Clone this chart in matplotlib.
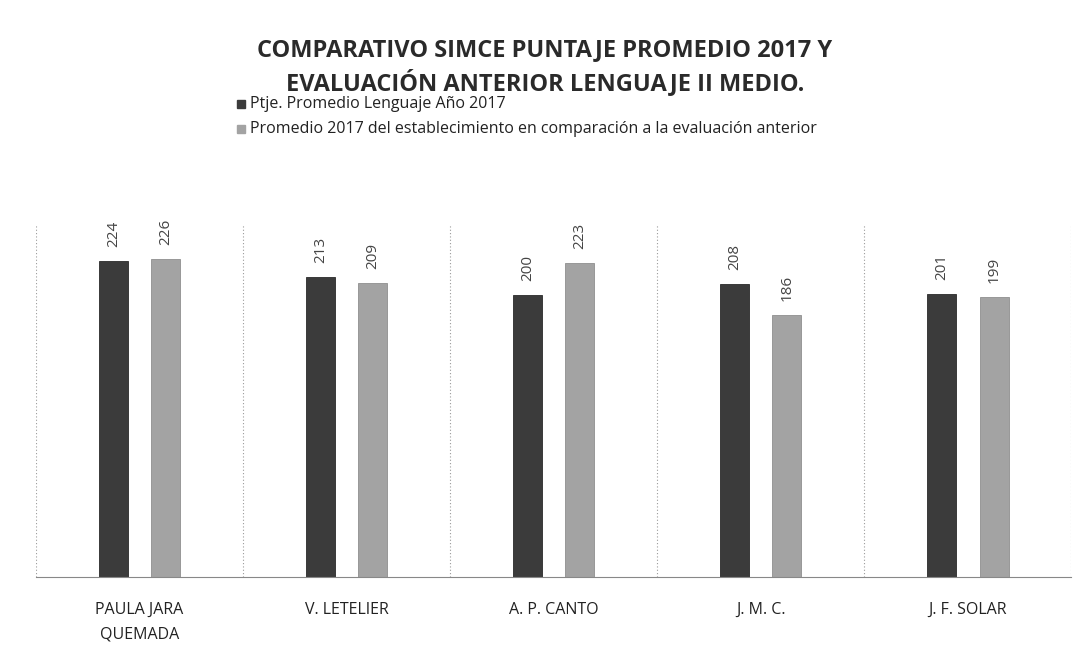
import numpy as np
import matplotlib.pyplot as plt

# Datos del gráfico
escuelas = ['PAULA JARA\nQUEMADA', 'V. LETELIER', 'A. P. CANTO', 'J. M. C.', 'J. F. SOLAR']
ptje_2017 = [224, 213, 200, 208, 201]
promedio_anterior = [226, 209, 223, 186, 199]
serie_1 = 'Ptje. Promedio Lenguaje Año 2017'
serie_2 = 'Promedio 2017 del establecimiento en comparación a la evaluación anterior'

plt.rcParams['font.family'] = ['Open Sans', 'DejaVu Sans']

fig = plt.figure(figsize=(10.9, 6.48), dpi=100)
ax = fig.add_axes([0.033, 0.1096, 0.95, 0.5434])

x = np.arange(len(escuelas))
ancho = 0.14
desp = 0.126
b1 = ax.bar(x - desp, ptje_2017, ancho, color='#3b3b3b', edgecolor='#2a2a2a', linewidth=0.6)
b2 = ax.bar(x + desp, promedio_anterior, ancho, color='#a3a3a3', edgecolor='#8f8f8f', linewidth=0.6)

for barras in (b1, b2):
    for b in barras:
        ax.text(b.get_x() + b.get_width() / 2, b.get_height() + 10, str(int(b.get_height())),
                rotation=90, ha='center', va='bottom', fontsize=11, color='#444444')

ax.set_xlim(-0.5, len(escuelas) - 0.5)
ax.set_ylim(0, 250)
ax.set_yticks([])
ax.set_xticks(x)
ax.set_xticklabels(escuelas, fontsize=11.5, color='#222222', linespacing=1.7)
ax.tick_params(axis='x', length=0, pad=18)

# separadores verticales entre categorías
for sep in np.arange(-0.5, len(escuelas) + 0.5, 1):
    ax.axvline(sep, color='#9a9a9a', linestyle=(0, (1, 2)), linewidth=0.8, zorder=0)

for lado in ['top', 'right', 'left']:
    ax.spines[lado].set_visible(False)
ax.spines['bottom'].set_color('#888888')
ax.spines['bottom'].set_linestyle((0, (2, 1)))
ax.spines['bottom'].set_linewidth(0.8)

fig.text(0.5, 0.897, 'COMPARATIVO SIMCE PUNTAJE PROMEDIO 2017 Y\nEVALUACIÓN ANTERIOR LENGUAJE II MEDIO.',
         ha='center', va='center', fontsize=17, fontweight='bold', color='#2a2a2a', linespacing=1.35)

# leyenda manual
fig.patches.append(plt.Rectangle((0.2175, 0.833), 0.0075, 0.0125, transform=fig.transFigure,
                                 color='#3b3b3b', figure=fig))
fig.text(0.229, 0.839, serie_1, ha='left', va='center', fontsize=11.5, color='#222222')
fig.patches.append(plt.Rectangle((0.2175, 0.795), 0.0075, 0.0125, transform=fig.transFigure,
                                 color='#a3a3a3', figure=fig))
fig.text(0.229, 0.801, serie_2, ha='left', va='center', fontsize=11.5, color='#222222')

plt.savefig('out.png', dpi=100)
